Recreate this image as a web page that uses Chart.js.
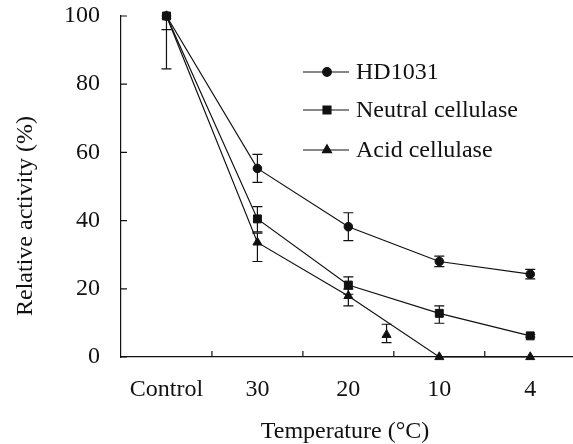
<!DOCTYPE html>
<html>
<head>
<meta charset="utf-8">
<script src="https://cdn.jsdelivr.net/npm/chart.js@4.4.0/dist/chart.umd.min.js"></script>
<style>
  html, body { margin: 0; padding: 0; background: #fff; }
  #wrap { width: 573px; height: 444px; }
</style>
</head>
<body>
<div id="wrap"><canvas id="myChart"></canvas></div>
<script>
const categories = ["Control", "30", "20", "10", "4"];
const yTicks = [0, 20, 40, 60, 80, 100];

const hd1031 = [100, 55.3, 38.2, 28.0, 24.3];
const hd1031Low = [84.5, 51.2, 34.1, 26.5, 22.9];
const hd1031High = [96, 59.4, 42.3, 29.6, 25.7];

const neutral = [100, 40.5, 21.1, 12.8, 6.2];
const neutralLow = [null, 36.7, 18.4, 9.9, 5.8];
const neutralHigh = [null, 44.1, 23.5, 15.0, 6.6];

const acid = [100, 33.6, 17.9, 0, 0];
const acidLow = [null, 28.0, 15.0, null, null];
const acidHigh = [null, 36.3, 19.9, null, null];

// stray acid cellulase point between 20 and 10
const acidExtraX = [2.92];
const acidExtra = [6.5];
const acidExtraLow = [4.2];
const acidExtraHigh = [9.6];

const FAMILY = '"Liberation Serif", "Times New Roman", serif';
const SIZE = 24;
const FONT = SIZE + "px " + FAMILY;
const INK = "#111";

const onBands = (vals) => vals.map((v, i) => ({ x: i + 0.5, y: v }));

function lineSet(label, vals, low, high, style, radius) {
  return {
    label: label,
    data: onBands(vals),
    errLow: low,
    errHigh: high,
    borderColor: INK,
    backgroundColor: INK,
    borderWidth: 1.2,
    pointStyle: style,
    pointRadius: radius,
    pointBackgroundColor: INK,
    pointBorderColor: INK,
    pointBorderWidth: 1,
    tension: 0,
    clip: false,
  };
}

const decor = {
  id: "decor",
  afterDatasetsDraw(chart) {
    const ctx = chart.ctx;
    const y = chart.scales.y;
    ctx.save();
    ctx.strokeStyle = INK;
    ctx.lineWidth = 1.2;
    chart.data.datasets.forEach((ds, di) => {
      if (!ds.errLow) return;
      const meta = chart.getDatasetMeta(di);
      meta.data.forEach((pt, i) => {
        const lo = ds.errLow[i], hi = ds.errHigh[i];
        if (lo == null || hi == null) return;
        const v = ds.data[i].y;
        const x = pt.x;
        const yl = y.getPixelForValue(lo), yh = y.getPixelForValue(hi);
        const y0 = y.getPixelForValue(Math.min(lo, v)), y1 = y.getPixelForValue(Math.max(hi, v));
        ctx.beginPath();
        ctx.moveTo(x, y0); ctx.lineTo(x, y1);
        ctx.moveTo(x - 5, yl); ctx.lineTo(x + 5, yl);
        ctx.moveTo(x - 5, yh); ctx.lineTo(x + 5, yh);
        ctx.stroke();
      });
    });
    ctx.restore();
  },
  afterDraw(chart) {
    const ctx = chart.ctx;
    const xs = chart.scales.x, ys = chart.scales.y;
    const area = chart.chartArea;
    ctx.save();
    ctx.strokeStyle = INK;
    ctx.lineWidth = 1.2;
    // inward tick marks
    ctx.beginPath();
    for (let i = 1; i < categories.length; i++) {
      const px = xs.getPixelForValue(i);
      ctx.moveTo(px, area.bottom); ctx.lineTo(px, area.bottom - 6);
    }
    yTicks.forEach((t) => {
      const py = ys.getPixelForValue(t);
      ctx.moveTo(area.left, py); ctx.lineTo(area.left + 6, py);
    });
    ctx.stroke();

    // legend
    ctx.font = FONT;
    ctx.fillStyle = INK;
    ctx.textBaseline = "middle";
    ctx.textAlign = "left";
    const rows = [72, 110, 150];
    chart.data.datasets.slice(0, 3).forEach((ds, i) => {
      const ry = rows[i];
      ctx.beginPath();
      ctx.moveTo(303, ry); ctx.lineTo(349, ry);
      ctx.stroke();
      Chart.helpers.drawPoint(ctx, { pointStyle: ds.pointStyle, radius: ds.pointRadius, rotation: 0, borderWidth: 1 }, 327, ry);
      ctx.fillText(ds.label, 356, ry + 1);
    });

    // axis titles
    ctx.textAlign = "center";
    ctx.fillText("Temperature (°C)", 345, 432);
    ctx.translate(26, 216);
    ctx.rotate(-Math.PI / 2);
    ctx.fillText("Relative activity (%)", 0, 0);
    ctx.restore();
  },
};

const datasets = [
  lineSet("HD1031", hd1031, hd1031Low, hd1031High, "circle", 4.3),
  lineSet("Neutral cellulase", neutral, neutralLow, neutralHigh, "rect", 5.6),
  lineSet("Acid cellulase", acid, acidLow, acidHigh, "triangle", 5.2),
  Object.assign(
    lineSet("Acid cellulase extra", [], acidExtraLow, acidExtraHigh, "triangle", 5.2),
    { data: acidExtraX.map((x, i) => ({ x: x, y: acidExtra[i] })), showLine: false }
  ),
];

new Chart(document.getElementById("myChart").getContext("2d"), {
  type: "line",
  data: { datasets: datasets },
  options: {
    responsive: true,
    maintainAspectRatio: false,
    animation: false,
    layout: { autoPadding: false, padding: { top: 16, right: 0, left: 0, bottom: 0 } },
    plugins: { legend: { display: false }, tooltip: { enabled: false } },
    scales: {
      x: {
        type: "linear",
        min: 0,
        max: 4.97,
        afterBuildTicks: (s) => { s.ticks = categories.map((c, i) => ({ value: i + 0.5 })); },
        afterFit: (s) => { s.height = 87; s.paddingLeft = 0; s.paddingRight = 0; },
        grid: { display: false, drawTicks: false },
        border: { display: true, color: INK, width: 1.2 },
        ticks: {
          autoSkip: false,
          maxRotation: 0,
          padding: 18,
          color: INK,
          font: { family: FAMILY, size: SIZE },
          callback: (v, i) => categories[i],
        },
      },
      y: {
        min: 0,
        max: 100,
        afterBuildTicks: (s) => { s.ticks = yTicks.map((v) => ({ value: v })); },
        afterFit: (s) => { s.width = 121; s.paddingTop = 0; s.paddingBottom = 0; },
        grid: { display: false, drawTicks: false },
        border: { display: true, color: INK, width: 1.2 },
        ticks: {
          padding: 21,
          color: INK,
          font: { family: FAMILY, size: SIZE },
        },
      },
    },
  },
  plugins: [decor],
});
</script>
</body>
</html>
